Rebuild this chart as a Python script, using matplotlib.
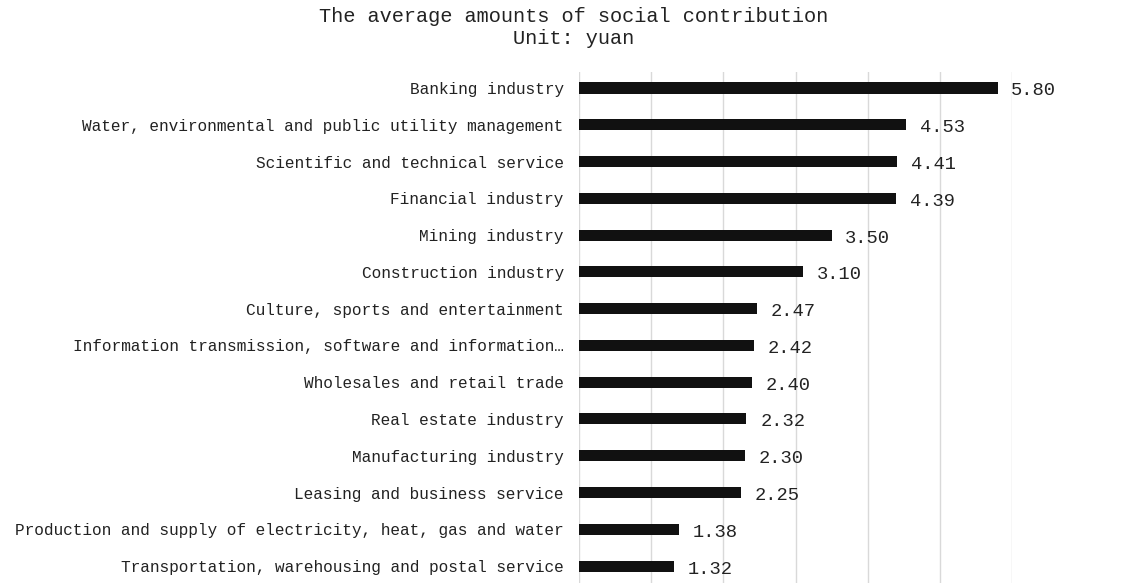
import matplotlib.pyplot as plt

# categories from top to bottom, as in the picture
industries = [
    "Banking industry",
    "Water, environmental and public utility management",
    "Scientific and technical service",
    "Financial industry",
    "Mining industry",
    "Construction industry",
    "Culture, sports and entertainment",
    "Information transmission, software and information\u2026",
    "Wholesales and retail trade",
    "Real estate industry",
    "Manufacturing industry",
    "Leasing and business service",
    "Production and supply of electricity, heat, gas and water",
    "Transportation, warehousing and postal service",
]
amounts = [5.80, 4.53, 4.41, 4.39, 3.50, 3.10, 2.47, 2.42, 2.40, 2.32, 2.30, 2.25, 1.38, 1.32]
grid_ticks = [0, 1, 2, 3, 4, 5, 6]

plt.rcParams['font.family'] = ['Liberation Mono', 'DejaVu Sans Mono']

fig = plt.figure(figsize=(11.47, 5.83), dpi=100)
ax = fig.add_axes([0.5048, 0.0, 0.3775, 0.8765])

pos = list(range(len(industries)))
ax.barh(pos, amounts, height=0.3, color='#111111', zorder=3)

# value labels next to each bar
for y, v in zip(pos, amounts):
    ax.text(v + 0.19, y + 0.08, f"{v:.2f}", va='center', ha='left',
            fontsize=13.5, color='#222222')

ax.set_xlim(0, 6)
ax.set_ylim(13.46, -0.435)
ax.set_xticks(grid_ticks)
ax.set_xticklabels([])
ax.set_yticks(pos)
ax.set_yticklabels(industries, fontsize=11.6, color='#222222')
ax.tick_params(axis='both', length=0)
ax.tick_params(axis='y', pad=11)
ax.grid(axis='x', color='#d9d9d9', linewidth=1, zorder=0)
for s in ax.spines.values():
    s.set_visible(False)

fig.text(0.5, 0.988, "The average amounts of social contribution\nUnit: yuan",
         ha='center', va='top', fontsize=14.6, color='#222222', linespacing=1.2)

fig.savefig('out.png', dpi=100)
